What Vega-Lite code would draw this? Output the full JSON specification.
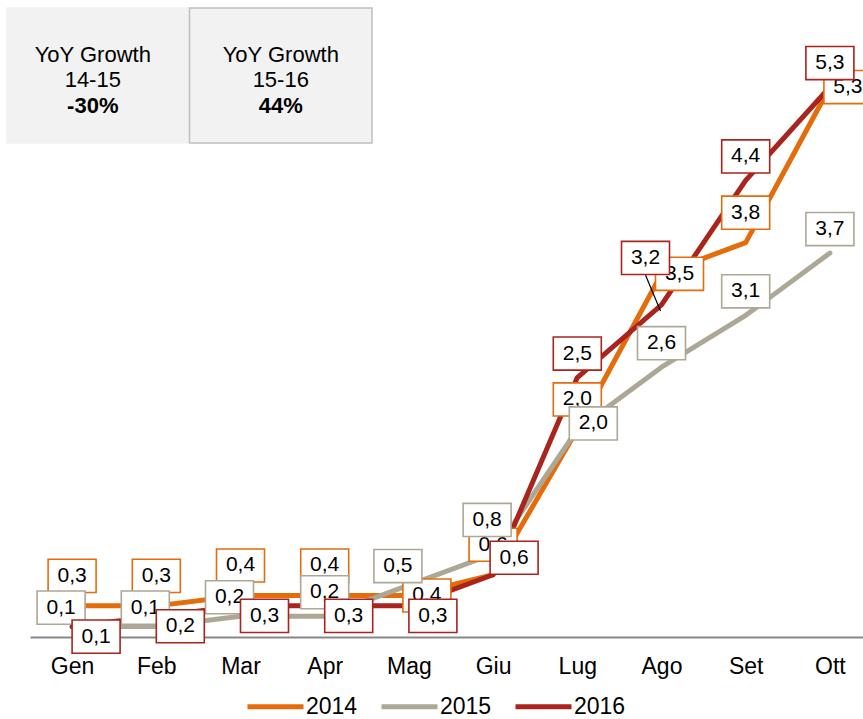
{
"$schema": "https://vega.github.io/schema/vega-lite/v6.json",
"width": 833, "height": 633,
"autosize": {"type": "none"},
"padding": {"left": 30, "top": 4, "right": 0, "bottom": 82},
"config": {
  "font": "Liberation Sans",
  "view": {"stroke": null},
  "locale": {"number": {"decimal": ",", "thousands": ".", "grouping": [3], "currency": ["", " €"]}}
},
"data": {"values": [
  {"month": "Gen", "year": "2014", "value": 0.3},
  {"month": "Feb", "year": "2014", "value": 0.3},
  {"month": "Mar", "year": "2014", "value": 0.4},
  {"month": "Apr", "year": "2014", "value": 0.4},
  {"month": "Mag", "year": "2014", "value": 0.4},
  {"month": "Giu", "year": "2014", "value": 0.6},
  {"month": "Lug", "year": "2014", "value": 2.0},
  {"month": "Ago", "year": "2014", "value": 3.5},
  {"month": "Set", "year": "2014", "value": 3.8},
  {"month": "Ott", "year": "2014", "value": 5.3},
  {"month": "Gen", "year": "2015", "value": 0.1},
  {"month": "Feb", "year": "2015", "value": 0.1},
  {"month": "Mar", "year": "2015", "value": 0.2},
  {"month": "Apr", "year": "2015", "value": 0.2},
  {"month": "Mag", "year": "2015", "value": 0.5},
  {"month": "Giu", "year": "2015", "value": 0.8},
  {"month": "Lug", "year": "2015", "value": 2.0},
  {"month": "Ago", "year": "2015", "value": 2.6},
  {"month": "Set", "year": "2015", "value": 3.1},
  {"month": "Ott", "year": "2015", "value": 3.7},
  {"month": "Gen", "year": "2016", "value": 0.1},
  {"month": "Feb", "year": "2016", "value": 0.2},
  {"month": "Mar", "year": "2016", "value": 0.3},
  {"month": "Apr", "year": "2016", "value": 0.3},
  {"month": "Mag", "year": "2016", "value": 0.3},
  {"month": "Giu", "year": "2016", "value": 0.6},
  {"month": "Lug", "year": "2016", "value": 2.5},
  {"month": "Ago", "year": "2016", "value": 3.2},
  {"month": "Set", "year": "2016", "value": 4.4},
  {"month": "Ott", "year": "2016", "value": 5.3}
]},
"resolve": {"scale": {"x": "independent"}, "axis": {"x": "independent"}},
"layer": [
  {
    "data": {"values": [
      {"period": "14-15", "start": 0, "end": 1, "mid": 0.47, "growth": "-30%"},
      {"period": "15-16", "start": 1, "end": 2, "mid": 1.5, "growth": "44%"}
    ]},
    "layer": [
      {"mark": {"type": "rect", "fill": "#F2F2F2", "strokeWidth": 1.5},
       "encoding": {
         "x": {"field": "start", "type": "quantitative", "scale": {"domain": [0.126, 4.69], "nice": false, "zero": false}, "axis": null},
         "x2": {"field": "end"},
         "y": {"datum": 6.061, "type": "quantitative", "axis": null},
         "y2": {"datum": 4.76},
         "stroke": {"condition": {"test": "datum.start == 1", "value": "#BFBFBF"}, "value": "#F2F2F2"}
       }},
      {"mark": {"type": "text", "fontSize": 22, "color": "black", "baseline": "alphabetic"},
       "encoding": {
         "x": {"field": "mid", "type": "quantitative", "scale": {"domain": [0.126, 4.69], "nice": false, "zero": false}, "axis": null},
         "y": {"datum": 5.541, "type": "quantitative", "axis": null},
         "text": {"value": "YoY Growth"}
       }},
      {"mark": {"type": "text", "fontSize": 22, "color": "black", "baseline": "alphabetic"},
       "encoding": {
         "x": {"field": "mid", "type": "quantitative", "scale": {"domain": [0.126, 4.69], "nice": false, "zero": false}, "axis": null},
         "y": {"datum": 5.30, "type": "quantitative", "axis": null},
         "text": {"field": "period"}
       }},
      {"mark": {"type": "text", "fontSize": 22, "fontWeight": "bold", "color": "black", "baseline": "alphabetic"},
       "encoding": {
         "x": {"field": "mid", "type": "quantitative", "scale": {"domain": [0.126, 4.69], "nice": false, "zero": false}, "axis": null},
         "y": {"datum": 5.05, "type": "quantitative", "axis": null},
         "text": {"field": "growth"}
       }}
    ]
  },
  {
    "encoding": {
      "x": {"field": "month", "type": "ordinal", "sort": ["Gen","Feb","Mar","Apr","Mag","Giu","Lug","Ago","Set","Ott"],
            "scale": {"type": "point", "range": [0, 842], "padding": 0.5},
            "axis": {"title": null, "domainColor": "#878787", "domainWidth": 2, "ticks": false, "grid": false, "labelAngle": 0, "labelFontSize": 23, "labelColor": "black", "labelPadding": 18}},
      "y": {"field": "value", "type": "quantitative", "scale": {"domain": [0, 6.1], "nice": false, "zero": true}, "axis": null}
    },
    "layer": [
      {"mark": {"type": "line", "strokeWidth": 5, "strokeCap": "round", "strokeJoin": "round"},
       "encoding": {
         "color": {"field": "year", "type": "nominal",
                   "scale": {"domain": ["2014","2015","2016"], "range": ["#E46C0A","#ADA795","#A9241D"]},
                   "legend": {"orient": "none", "legendX": 215, "legendY": 672, "direction": "horizontal", "title": null,
                              "symbolType": "stroke", "symbolSize": 3136, "symbolStrokeWidth": 5,
                              "labelFontSize": 23, "labelColor": "black", "labelOffset": 0, "columnPadding": 13}}
       }},
      {"transform": [{"filter": {"and": [{"field": "year", "equal": "2016"}, {"field": "month", "equal": "Ago"}]}}],
       "mark": {"type": "rule", "color": "black", "strokeWidth": 1.2, "xOffset": -1, "yOffset": 6, "x2Offset": -16, "y2Offset": -30},
       "encoding": {"x2": {"field": "month"}, "y2": {"field": "value"}}},
      {"transform": [{"filter": {"and": [{"field": "year", "equal": "2014"}, {"field": "month", "oneOf": ["Gen","Feb","Mar","Apr","Giu","Lug","Set"]}]}}],
       "layer": [
         {"mark": {"type": "point", "shape": "M-1,-0.69H1V0.69H-1Z", "size": 2304, "filled": true, "fill": "white", "opacity": 1, "stroke": "#E46C0A", "strokeWidth": 1.6, "xOffset": 0, "yOffset": -30}},
         {"mark": {"type": "text", "fontSize": 21, "color": "black", "baseline": "middle", "xOffset": 0, "yOffset": -30},
          "encoding": {"text": {"field": "value", "type": "quantitative", "format": ".1f"}}}
       ]},
      {"transform": [{"filter": {"and": [{"field": "year", "equal": "2014"}, {"field": "month", "oneOf": ["Mag","Ago","Ott"]}]}}],
       "layer": [
         {"mark": {"type": "point", "shape": "M-1,-0.69H1V0.69H-1Z", "size": 2304, "filled": true, "fill": "white", "opacity": 1, "stroke": "#E46C0A", "strokeWidth": 1.6, "xOffset": 18, "yOffset": 0}},
         {"mark": {"type": "text", "fontSize": 21, "color": "black", "baseline": "middle", "xOffset": 18, "yOffset": 0},
          "encoding": {"text": {"field": "value", "type": "quantitative", "format": ".1f"}}}
       ]},
      {"transform": [{"filter": {"and": [{"field": "year", "equal": "2015"}, {"field": "month", "oneOf": ["Gen","Feb","Mar","Mag"]}]}}],
       "layer": [
         {"mark": {"type": "point", "shape": "M-1,-0.69H1V0.69H-1Z", "size": 2304, "filled": true, "fill": "white", "opacity": 1, "stroke": "#ADA795", "strokeWidth": 1.6, "xOffset": -11, "yOffset": -19}},
         {"mark": {"type": "text", "fontSize": 21, "color": "black", "baseline": "middle", "xOffset": -11, "yOffset": -19},
          "encoding": {"text": {"field": "value", "type": "quantitative", "format": ".1f"}}}
       ]},
      {"transform": [{"filter": {"and": [{"field": "year", "equal": "2015"}, {"field": "month", "oneOf": ["Apr","Ago","Set","Ott"]}]}}],
       "layer": [
         {"mark": {"type": "point", "shape": "M-1,-0.69H1V0.69H-1Z", "size": 2304, "filled": true, "fill": "white", "opacity": 1, "stroke": "#ADA795", "strokeWidth": 1.6, "xOffset": 0, "yOffset": -24}},
         {"mark": {"type": "text", "fontSize": 21, "color": "black", "baseline": "middle", "xOffset": 0, "yOffset": -24},
          "encoding": {"text": {"field": "value", "type": "quantitative", "format": ".1f"}}}
       ]},
      {"transform": [{"filter": {"and": [{"field": "year", "equal": "2015"}, {"field": "month", "equal": "Lug"}]}}],
       "layer": [
         {"mark": {"type": "point", "shape": "M-1,-0.69H1V0.69H-1Z", "size": 2304, "filled": true, "fill": "white", "opacity": 1, "stroke": "#ADA795", "strokeWidth": 1.6, "xOffset": 16, "yOffset": -6}},
         {"mark": {"type": "text", "fontSize": 21, "color": "black", "baseline": "middle", "xOffset": 16, "yOffset": -6},
          "encoding": {"text": {"field": "value", "type": "quantitative", "format": ".1f"}}}
       ]},
      {"transform": [{"filter": {"and": [{"field": "year", "equal": "2015"}, {"field": "month", "equal": "Giu"}]}}],
       "layer": [
         {"mark": {"type": "point", "shape": "M-1,-0.69H1V0.69H-1Z", "size": 2304, "filled": true, "fill": "white", "opacity": 1, "stroke": "#ADA795", "strokeWidth": 1.6, "xOffset": -6, "yOffset": -34}},
         {"mark": {"type": "text", "fontSize": 21, "color": "black", "baseline": "middle", "xOffset": -6, "yOffset": -34},
          "encoding": {"text": {"field": "value", "type": "quantitative", "format": ".1f"}}}
       ]},
      {"transform": [{"filter": {"and": [{"field": "year", "equal": "2016"}, {"field": "month", "oneOf": ["Gen","Feb","Mar","Apr","Mag"]}]}}],
       "layer": [
         {"mark": {"type": "point", "shape": "M-1,-0.69H1V0.69H-1Z", "size": 2304, "filled": true, "fill": "white", "opacity": 1, "stroke": "#A9241D", "strokeWidth": 1.6, "xOffset": 24, "yOffset": 10}},
         {"mark": {"type": "text", "fontSize": 21, "color": "black", "baseline": "middle", "xOffset": 24, "yOffset": 10},
          "encoding": {"text": {"field": "value", "type": "quantitative", "format": ".1f"}}}
       ]},
      {"transform": [{"filter": {"and": [{"field": "year", "equal": "2016"}, {"field": "month", "equal": "Giu"}]}}],
       "layer": [
         {"mark": {"type": "point", "shape": "M-1,-0.69H1V0.69H-1Z", "size": 2304, "filled": true, "fill": "white", "opacity": 1, "stroke": "#A9241D", "strokeWidth": 1.6, "xOffset": 21, "yOffset": -17}},
         {"mark": {"type": "text", "fontSize": 21, "color": "black", "baseline": "middle", "xOffset": 21, "yOffset": -17},
          "encoding": {"text": {"field": "value", "type": "quantitative", "format": ".1f"}}}
       ]},
      {"transform": [{"filter": {"and": [{"field": "year", "equal": "2016"}, {"field": "month", "oneOf": ["Lug","Set","Ott"]}]}}],
       "layer": [
         {"mark": {"type": "point", "shape": "M-1,-0.69H1V0.69H-1Z", "size": 2304, "filled": true, "fill": "white", "opacity": 1, "stroke": "#A9241D", "strokeWidth": 1.6, "xOffset": 0, "yOffset": -24}},
         {"mark": {"type": "text", "fontSize": 21, "color": "black", "baseline": "middle", "xOffset": 0, "yOffset": -24},
          "encoding": {"text": {"field": "value", "type": "quantitative", "format": ".1f"}}}
       ]},
      {"transform": [{"filter": {"and": [{"field": "year", "equal": "2016"}, {"field": "month", "equal": "Ago"}]}}],
       "layer": [
         {"mark": {"type": "point", "shape": "M-1,-0.69H1V0.69H-1Z", "size": 2304, "filled": true, "fill": "white", "opacity": 1, "stroke": "#A9241D", "strokeWidth": 1.6, "xOffset": -16, "yOffset": -47}},
         {"mark": {"type": "text", "fontSize": 21, "color": "black", "baseline": "middle", "xOffset": -16, "yOffset": -47},
          "encoding": {"text": {"field": "value", "type": "quantitative", "format": ".1f"}}}
       ]}
    ]
  }
]
}
